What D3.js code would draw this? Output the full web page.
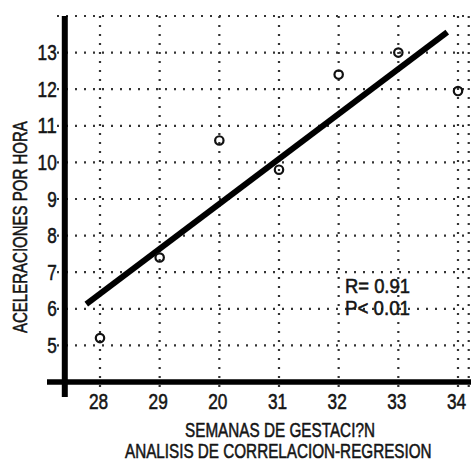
<!DOCTYPE html>
<html>
<head>
<meta charset="utf-8">
<script src="https://cdn.jsdelivr.net/npm/d3@7"></script>
<style>
  html, body { margin: 0; padding: 0; background: #fff; }
  svg { display: block; }
  text { font-family: "Liberation Sans", Arial, sans-serif; fill: #151515; stroke: #151515; stroke-width: 0.55px; }
</style>
</head>
<body>
<svg id="chart" width="471" height="462"></svg>
<script>
// Weeks of gestation and accelerations per hour
const weeks = [28, 29, 30, 31, 32, 33, 34];
const weekLabels = ["28", "29", "20", "31", "32", "33", "34"];
const accelerations = [5.2, 7.4, 10.6, 9.8, 12.4, 13.0, 11.95];
const yTicks = [5, 6, 7, 8, 9, 10, 11, 12, 13];
const gridY = [5, 6, 7, 8, 9, 10, 11, 12, 13, 14];
// Fitted regression line, end points
const fitX = [27.77, 33.82];
const fitY = [6.13, 13.56];
const stats = ["R= 0.91", "P< 0.01"];

const svg = d3.select("#chart");
const W = 471, H = 462;

const x = d3.scaleLinear().domain([28, 34]).range([100, 458]);
const y = d3.scaleLinear().domain([4, 14]).range([382, 16]);

const axisX = x(27.41);   // vertical axis position
const axisY = y(4);       // horizontal axis position

// Condensed lettering: width given per digit
const digitW = 9.6;

// Places a horizontally condensed label: left end at (px, py), squeezed to width w,
// optionally rotated about its anchor
function condensedText(str, px, py, size, w, angle = 0) {
  const t = svg.append("text").attr("font-size", size).text(str);
  const natural = t.node().getComputedTextLength();
  const sx = w / natural;
  t.attr("transform", `translate(${px},${py}) rotate(${angle}) scale(${sx},1)`);
  return t;
}

// Dotted grid
const grid = svg.append("g").attr("stroke", "#333").attr("stroke-width", 2.2)
  .attr("stroke-dasharray", "2,7").attr("fill", "none");
grid.selectAll("line.h").data(gridY).join("line")
  .attr("x1", 57).attr("x2", W)
  .attr("y1", d => y(d)).attr("y2", d => y(d));
grid.selectAll("line.v").data(weeks).join("line")
  .attr("x1", d => x(d)).attr("x2", d => x(d))
  .attr("y1", y(14)).attr("y2", axisY + 12);
grid.append("line")
  .attr("x1", x(34.18)).attr("x2", x(34.18))
  .attr("y1", y(14)).attr("y2", axisY + 12);

// Axis labels through d3 axes
const gx = svg.append("g").attr("transform", `translate(0,${axisY})`)
  .call(d3.axisBottom(x).tickValues(weeks).tickSize(0).tickPadding(11)
    .tickFormat((d, i) => weekLabels[i]));
const gy = svg.append("g").attr("transform", `translate(${axisX},0)`)
  .call(d3.axisLeft(y).tickValues(yTicks).tickSize(0).tickPadding(8));
[gx, gy].forEach(g => {
  g.select(".domain").remove();
  g.selectAll("text")
    .attr("font-size", 22)
    .attr("font-family", '"Liberation Sans", Arial, sans-serif')
    .attr("fill", "#151515")
    .attr("textLength", function() { return this.textContent.length * digitW; })
    .attr("lengthAdjust", "spacingAndGlyphs");
});
gx.selectAll("text").attr("dx", -2);

// Heavy axis lines
svg.append("line").attr("x1", axisX).attr("x2", axisX)
  .attr("y1", y(14)).attr("y2", axisY + 15)
  .attr("stroke", "#000").attr("stroke-width", 6);
svg.append("line").attr("x1", 47).attr("x2", W)
  .attr("y1", axisY).attr("y2", axisY)
  .attr("stroke", "#000").attr("stroke-width", 5.5);

// Regression line
svg.append("line")
  .attr("x1", x(fitX[0])).attr("y1", y(fitY[0]))
  .attr("x2", x(fitX[1])).attr("y2", y(fitY[1]))
  .attr("stroke", "#000").attr("stroke-width", 6);

// Observations
svg.selectAll("circle.pt").data(weeks).join("circle")
  .attr("cx", d => x(d)).attr("cy", (d, i) => y(accelerations[i]))
  .attr("r", 4.2).attr("fill", "none").attr("stroke", "#111").attr("stroke-width", 2.2);

// Correlation statistics
stats.forEach((s, i) => condensedText(s, 345, 293 + i * 22, 21, 65));

// Titles
condensedText("SEMANAS DE GESTACI?N", 185, 437, 21, 190);
condensedText("ANALISIS DE CORRELACION-REGRESION", 125, 458, 20, 307);
condensedText("ACELERACIONES POR HORA", 27, 333, 20, 212, -90);
</script>
</body>
</html>
